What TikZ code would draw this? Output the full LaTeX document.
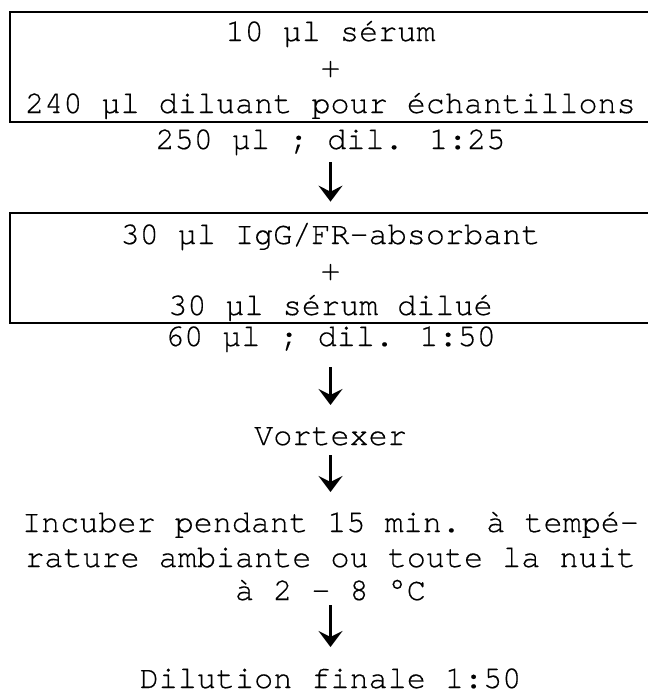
\documentclass[tikz,border=0pt]{standalone}
\usepackage{fontspec}
\setmainfont{texgyrecursor}[Extension=.otf, UprightFont=*-regular, BoldFont=*-bold, Ligatures=NoCommon, FakeBold=0.4]
\usetikzlibrary{arrows.meta,calc}
\tikzset{
  txt/.style={inner sep=0pt, anchor=base, font=\fontsize{15.9}{18}\selectfont},
  stepframe/.style={draw, line width=1.35pt, inner sep=0pt, minimum width=325pt, minimum height=55pt},
  arr/.style={line width=1.4pt, -{Stealth[length=8pt,width=12pt,inset=3pt]}}
}
\begin{document}
\begin{tikzpicture}[x=0.5pt,y=-0.5pt]
\useasboundingbox (0,0) rectangle (648,691);
% box 1
\node[stepframe] (b1) at (335,67) {};
\node[txt] (b1a) at (330.5,41) {10 µl sérum};
\node[txt] (b1b) at (330.5,77) {+};
\node[txt] (b1c) at (330.5,113) {240 µl diluant pour échantillons};
\node[txt] (l1) at (330.5,149) {250 µl ; dil. 1:25};
% box 2
\node[stepframe] (b2) at (335,268) {};
\node[txt] (b2a) at (330.5,244) {30 µl IgG/FR-absorbant};
\node[txt] (b2b) at (330.5,280) {+};
\node[txt] (b2c) at (330.5,315) {30 µl sérum dilué};
\node[txt] (l2) at (330.5,346) {60 µl ; dil. 1:50};
% steps
\node[txt] (v) at (330.5,445) {Vortexer};
\node[txt] (i1) at (330.5,532) {Incuber pendant 15 min. à tempé-};
\node[txt] (i2) at (330.5,567) {rature ambiante ou toute la nuit};
\node[txt] (i3) at (330.5,600) {à 2 – 8 °C};
\node[txt] (d) at (330.5,688) {Dilution finale 1:50};
% arrows
\draw[arr] ($(l1.base)+(0,13)$) -- ($(b2.north)+(-4.5,-10)$);
\draw[arr] ($(l2.base)+(0,21)$) -- ($(v.base)+(0,-40)$);
\draw[arr] ($(v.base)+(0,10)$) -- ($(i1.base)+(0,-40)$);
\draw[arr] ($(i3.base)+(0,5)$) -- ($(d.base)+(0,-41)$);
\end{tikzpicture}
\end{document}
